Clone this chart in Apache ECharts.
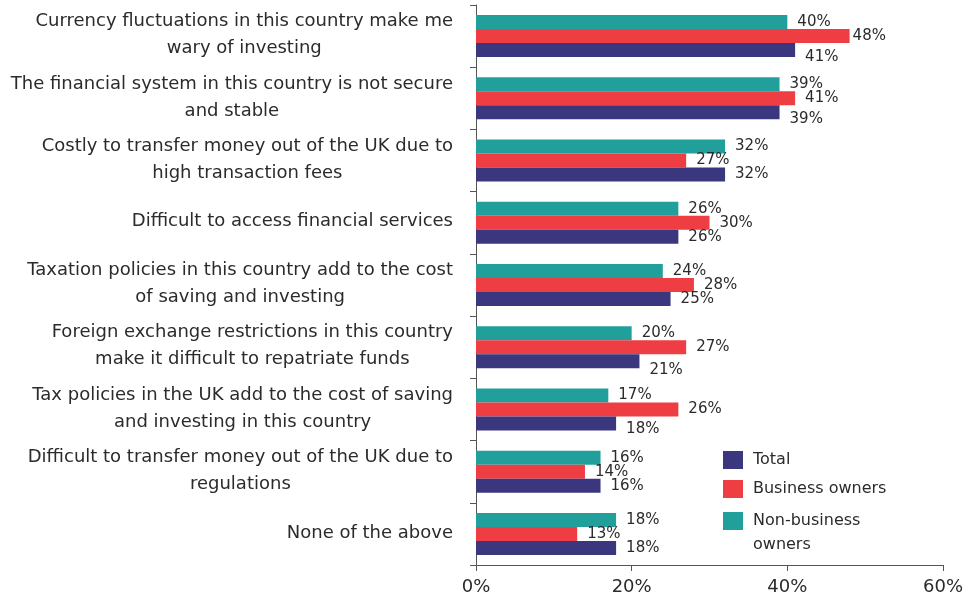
<!DOCTYPE html>
<html><head><meta charset="utf-8">
<script src="https://cdn.jsdelivr.net/npm/echarts@6/dist/echarts.min.js"></script>
<style>html,body{margin:0;padding:0;background:#fff}#c{width:966px;height:607px}</style>
</head><body><div id="c"></div>
<script>
const categories = [
  'Currency fluctuations in this country make me\nwary of investing',
  'The financial system in this country is not secure\nand stable',
  'Costly to transfer money out of the UK due to\nhigh transaction fees',
  'Difficult to access financial services',
  'Taxation policies in this country add to the cost\nof saving and investing',
  'Foreign exchange restrictions in this country\nmake it difficult to repatriate funds',
  'Tax policies in the UK add to the cost of saving\nand investing in this country',
  'Difficult to transfer money out of the UK due to\nregulations',
  'None of the above'
];
const nonBusiness = [40, 39, 32, 26, 24, 20, 17, 16, 18];
const business    = [48, 41, 27, 30, 28, 27, 26, 14, 13];
const total       = [41, 39, 32, 26, 25, 21, 18, 16, 18];
const xTicks = [0, 20, 40, 60];

// presentation tweaks (pixel nudges of value labels)
const totalLabelDy = [7, 7, 0, 0, 0, 9, 6, 0, 0];
const businessLabelDx = [-7, 0, 0, 0, 0, 0, 0, 0, 0];

const FONT = 'DejaVu Sans';
const TXT = '#2b2b2b';
const AX = '#555';
const C_TEAL = '#21A09B', C_RED = '#EE3E44', C_NAVY = '#3B377E';

function items(vals, dx, dy) {
  return vals.map((v, i) => ({ value: v, label: { offset: [dx ? dx[i] : 0, dy ? dy[i] : 0] } }));
}
const valLabel = { show: true, position: 'right', distance: 10, formatter: '{c}%', fontFamily: FONT, fontSize: 15, color: TXT };

const chart = echarts.init(document.getElementById('c'));
chart.setOption({
  animation: false,
  backgroundColor: '#fff',
  grid: { left: 476, right: 23, top: 5, bottom: 42, containLabel: false, outerBoundsMode: 'none' },
  xAxis: {
    type: 'value', min: xTicks[0], max: xTicks[xTicks.length - 1], interval: xTicks[1] - xTicks[0],
    axisLine: { show: true, lineStyle: { color: AX, width: 1 } },
    axisTick: { show: true, length: 6, lineStyle: { color: AX } },
    splitLine: { show: false },
    axisLabel: { formatter: '{value}%', fontFamily: FONT, fontSize: 18, color: TXT, margin: 13 }
  },
  yAxis: {
    type: 'category', data: categories, inverse: true,
    axisLine: { show: true, lineStyle: { color: AX, width: 1 } },
    axisTick: { show: true, length: 6, lineStyle: { color: AX } },
    axisLabel: {
      margin: 23, align: 'right', padding: [0, 0, 2, 0],
      formatter: v => v.split('\n').map(l => '{c|' + l + '}').join('\n'),
      rich: { c: { align: 'center', fontFamily: FONT, fontSize: 18, lineHeight: 27, color: TXT } }
    }
  },
  legend: [
    {
      data: ['Total', 'Business owners'], orient: 'vertical', left: 723, top: 451, padding: 0,
      itemWidth: 20, itemHeight: 18, itemGap: 11, icon: 'rect', selectedMode: false,
      textStyle: { fontFamily: FONT, fontSize: 16, color: TXT, padding: [0, 0, 0, 5] }
    },
    {
      data: ['Non-business owners'], orient: 'vertical', left: 723, top: 485, padding: 0,
      itemWidth: 20, itemHeight: 18, icon: 'rect', selectedMode: false,
      formatter: () => '\u00a0\nNon-business\nowners',
      textStyle: { fontFamily: FONT, fontSize: 16, color: TXT, lineHeight: 24, padding: [0, 0, 0, 5] }
    }
  ],
  series: [
    { name: 'Non-business owners', type: 'bar', data: items(nonBusiness), barWidth: 14, barGap: '0%',
      itemStyle: { color: C_TEAL }, label: valLabel },
    { name: 'Business owners', type: 'bar', data: items(business, businessLabelDx), barWidth: 14, barGap: '0%',
      itemStyle: { color: C_RED }, label: valLabel },
    { name: 'Total', type: 'bar', data: items(total, null, totalLabelDy), barWidth: 14, barGap: '0%',
      itemStyle: { color: C_NAVY }, label: valLabel }
  ]
});
</script></body></html>
